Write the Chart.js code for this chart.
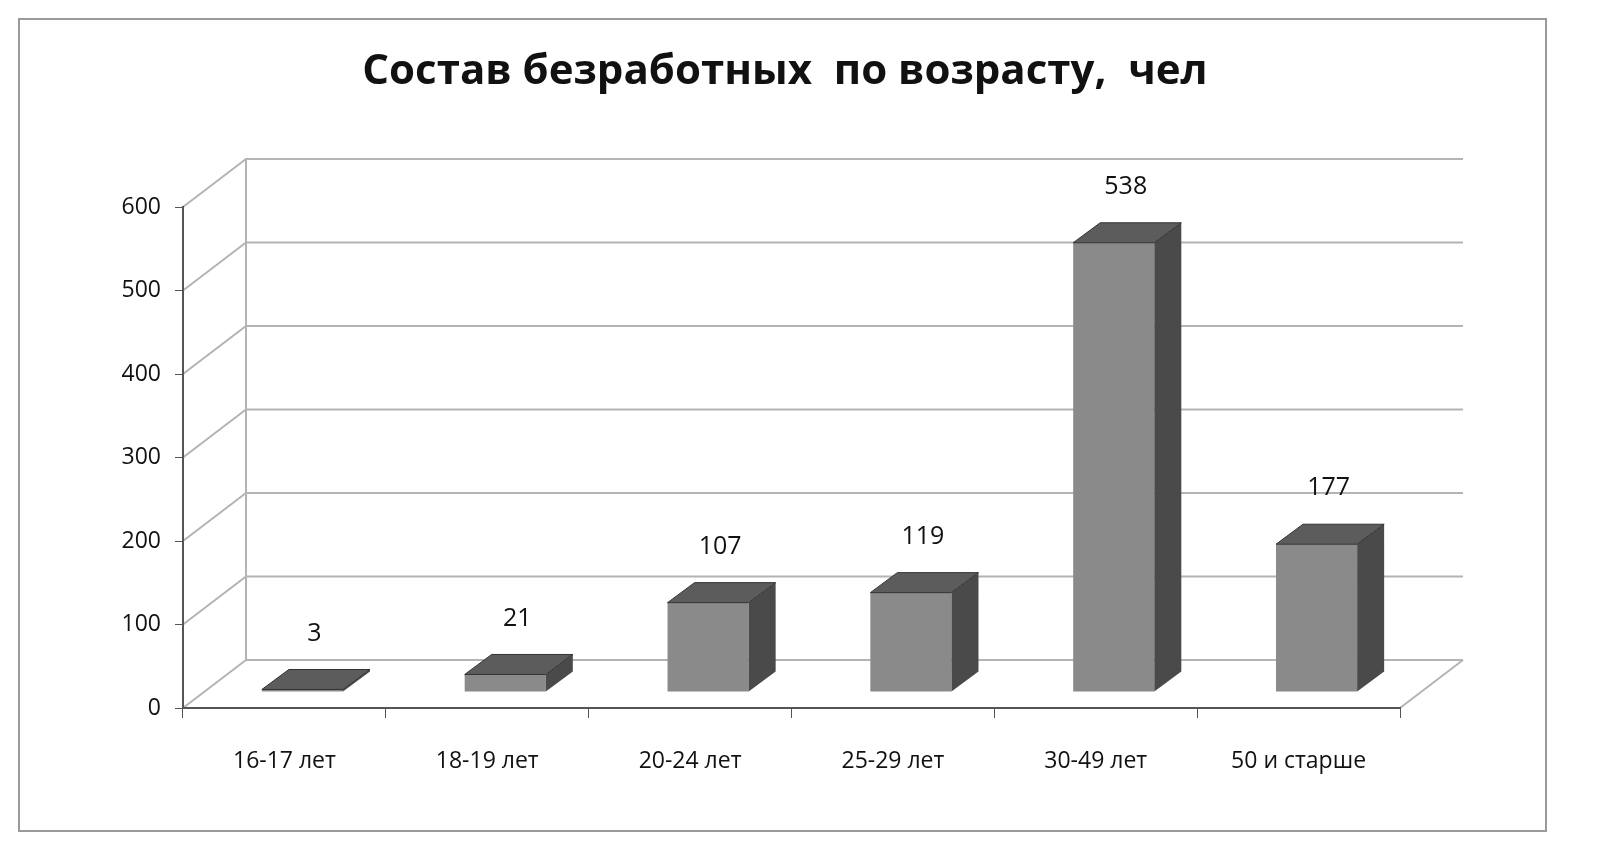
<!DOCTYPE html>
<html lang="ru">
<head>
    <meta charset="UTF-8">
    <title>Состав безработных по возрасту</title>
    <script src="https://cdn.jsdelivr.net/npm/chart.js"></script>
    <style>
        body { margin: 0; background: #fff; }
        #wrap { width: 1600px; height: 856px; }
    </style>
</head>
<body>
    <div id="wrap"><canvas id="chart"></canvas></div>
    <script>
        const categories = ['16-17 лет', '18-19 лет', '20-24 лет', '25-29 лет', '30-49 лет', '50 и старше'];
        const values = [3, 21, 107, 119, 538, 177];
        const yTicks = [0, 100, 200, 300, 400, 500, 600];

        // depth of the back wall and of each bar (pixels)
        const WALL_DX = 63, WALL_DY = 48;
        const BAR_DX = 18, BAR_DY = 16, DEPTH_DX = 27, DEPTH_DY = 20;

        const threeD = {
            id: 'threeD',
            beforeDraw(chart) {
                const { ctx, chartArea: a, scales: { y } } = chart;
                ctx.save();
                ctx.fillStyle = '#fff';
                ctx.fillRect(0, 0, chart.width, chart.height);
                ctx.strokeStyle = '#9a9a9a';
                ctx.lineWidth = 2;
                ctx.strokeRect(19, 19, 1527, 812);

                ctx.fillStyle = '#111';
                ctx.font = 'bold 42px "Open Sans", sans-serif';
                ctx.textAlign = 'center';
                ctx.textBaseline = 'middle';
                ctx.fillText('Состав безработных  по возрасту,  чел', 785, 72);

                ctx.strokeStyle = '#b4b4b4';
                ctx.lineWidth = 2;
                yTicks.forEach(v => {
                    const py = y.getPixelForValue(v);
                    ctx.beginPath();
                    ctx.moveTo(a.left, py);
                    ctx.lineTo(a.left + WALL_DX, py - WALL_DY);
                    ctx.lineTo(a.right + WALL_DX, py - WALL_DY);
                    ctx.stroke();
                });
                ctx.beginPath();
                ctx.moveTo(a.left + WALL_DX, y.getPixelForValue(600) - WALL_DY);
                ctx.lineTo(a.left + WALL_DX, a.bottom - WALL_DY);
                ctx.moveTo(a.right, a.bottom);
                ctx.lineTo(a.right + WALL_DX, a.bottom - WALL_DY);
                ctx.stroke();
                ctx.restore();
            },
            afterDatasetsDraw(chart) {
                const { ctx } = chart;
                const meta = chart.getDatasetMeta(0);
                ctx.save();
                meta.data.forEach((bar, i) => {
                    const w = bar.width;
                    const x0 = bar.x - w / 2 + BAR_DX, x1 = bar.x + w / 2 + BAR_DX;
                    const top = bar.y - BAR_DY, base = bar.base - BAR_DY;
                    ctx.fillStyle = '#8a8a8a';
                    ctx.fillRect(x0, top, w, base - top);
                    ctx.fillStyle = '#4a4a4a';
                    ctx.beginPath();
                    ctx.moveTo(x1, top); ctx.lineTo(x1 + DEPTH_DX, top - DEPTH_DY);
                    ctx.lineTo(x1 + DEPTH_DX, base - DEPTH_DY); ctx.lineTo(x1, base);
                    ctx.closePath(); ctx.fill();
                    ctx.fillStyle = '#5c5c5c';
                    ctx.beginPath();
                    ctx.moveTo(x0, top); ctx.lineTo(x0 + DEPTH_DX, top - DEPTH_DY);
                    ctx.lineTo(x1 + DEPTH_DX, top - DEPTH_DY); ctx.lineTo(x1, top);
                    ctx.closePath(); ctx.fill();
                    ctx.strokeStyle = '#333';
                    ctx.lineWidth = 1;
                    ctx.stroke();

                    ctx.fillStyle = '#111';
                    ctx.font = '25px "Open Sans", sans-serif';
                    ctx.textAlign = 'center';
                    ctx.textBaseline = 'middle';
                    ctx.fillText(String(values[i]), bar.x + BAR_DX + 12, top - 56);
                });
                ctx.restore();
            }
        };

        new Chart(document.getElementById('chart'), {
            type: 'bar',
            data: {
                labels: categories,
                datasets: [{
                    data: values,
                    backgroundColor: 'rgba(0,0,0,0)',
                    barPercentage: 0.4,
                    categoryPercentage: 1
                }]
            },
            options: {
                responsive: true,
                maintainAspectRatio: false,
                animation: false,
                layout: { padding: { left: 113, right: 200, top: 207, bottom: 58 } },
                plugins: { legend: { display: false }, tooltip: { enabled: false } },
                scales: {
                    x: {
                        grid: { display: true, drawOnChartArea: false, offset: true, tickLength: 10, color: '#555' },
                        border: { color: '#555', width: 2 },
                        ticks: { color: '#111', font: { size: 23, family: '"Open Sans", sans-serif' }, padding: 30 },
                        afterFit: s => { s.height = 90; }
                    },
                    y: {
                        min: 0, max: 600,
                        afterBuildTicks: s => { s.ticks = yTicks.map(v => ({ value: v })); },
                        grid: { drawOnChartArea: false, tickLength: 8, color: '#555' },
                        border: { color: '#555', width: 2 },
                        ticks: { color: '#111', font: { size: 23, family: '"Open Sans", sans-serif' }, padding: 14 },
                        afterFit: s => { s.width = 70; }
                    }
                }
            },
            plugins: [threeD]
        });
    </script>
</body>
</html>
